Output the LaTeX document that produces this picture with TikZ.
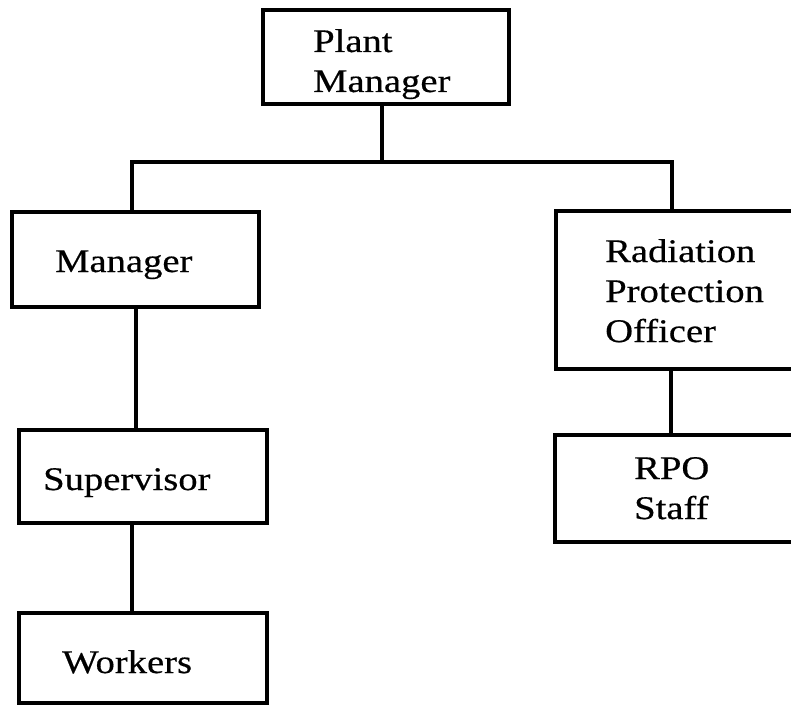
\documentclass[tikz,border=0pt]{standalone}
\usepackage{fontspec}
\setmainfont{Liberation Serif}[FakeStretch=1.17,FakeBold=0.5]
\begin{document}
\begin{tikzpicture}[x=1pt,y=-1pt,
  box/.style={draw=black,line width=3.2pt,rectangle,inner sep=0pt},
  lbl/.style={inner sep=0pt,anchor=base west,align=left,font=\fontsize{33}{40}\selectfont},
  conn/.style={draw=black,line width=3.2pt}]
\useasboundingbox (0,0) rectangle (791,706);
\clip (0,0) rectangle (791,706);
% boxes
\node[box,minimum width=246pt,minimum height=94pt] (pm) at (386,57) {};
\node[box,minimum width=247pt,minimum height=95pt] (mgr) at (135.5,259.5) {};
\node[box,minimum width=248pt,minimum height=93pt] (sup) at (143,476.5) {};
\node[box,minimum width=248pt,minimum height=90pt] (wrk) at (143,658) {};
\node[box,minimum width=244pt,minimum height=158pt] (rpo) at (678,290) {};
\node[box,minimum width=245pt,minimum height=107pt] (rps) at (677.5,488.5) {};
% labels (base = baseline of the last line)
\node[lbl] (tpm) at (313,92) {Plant\\Manager};
\node[lbl] (tmgr) at (55,272) {Manager};
\node[lbl] (tsup) at (43,490) {Supervisor};
\node[lbl] (twrk) at (62,673) {Workers};
\node[lbl] (trpo) at (605,342) {Radiation\\Protection\\Officer};
\node[lbl] (trps) at (634,519) {RPO\\Staff};
% connectors
\coordinate (jl) at (132,162);
\coordinate (jm) at (382,162);
\coordinate (jr) at (672,162);
\draw[conn] (pm.south -| jm) -- (jm);
\draw[conn] (mgr.north -| jl) -- (jl) -- (jr) -- (rpo.north -| jr);
\coordinate (x1) at (136,0);
\draw[conn] (mgr.south -| x1) -- (sup.north -| x1);
\coordinate (x2) at (132,0);
\draw[conn] (sup.south -| x2) -- (wrk.north -| x2);
\coordinate (x3) at (671,0);
\draw[conn] (rpo.south -| x3) -- (rps.north -| x3);
\end{tikzpicture}
\end{document}
